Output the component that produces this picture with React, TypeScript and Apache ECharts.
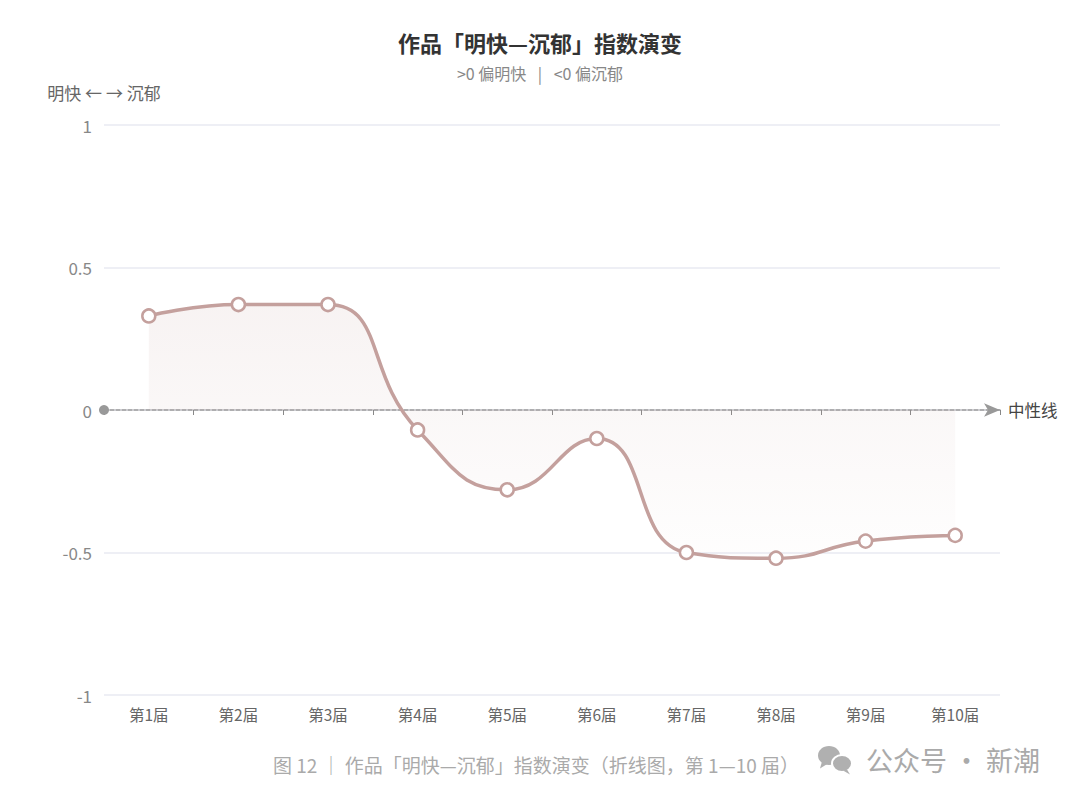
import React, { useEffect, useRef } from "react";
import * as echarts from "echarts";

const categories = ["第1届", "第2届", "第3届", "第4届", "第5届", "第6届", "第7届", "第8届", "第9届", "第10届"];
const values = [0.33, 0.37, 0.37, -0.07, -0.28, -0.1, -0.5, -0.52, -0.46, -0.44];
const yTicks = { min: -1, max: 1, interval: 0.5 };

const FONT = "'Noto Sans CJK SC', 'Noto Sans', sans-serif";
const LINE = "#c4a09d";

export default function App() {
  const ref = useRef<HTMLDivElement>(null);
  useEffect(() => {
    document.body.style.margin = "0";
    const chart = echarts.init(ref.current!, null, { renderer: "svg" });
    chart.setOption({
      animation: false,
      backgroundColor: "#fff",
      textStyle: { fontFamily: FONT },
      title: {
        text: "作品「明快—沉郁」指数演变",
        subtext: ">0 偏明快\u2002 |\u2002 <0 偏沉郁",
        left: "center",
        top: 26,
        itemGap: 12,
        textStyle: { fontSize: 22, fontWeight: "bold", color: "#333", fontFamily: FONT },
        subtextStyle: { fontSize: 16, color: "#888", fontFamily: FONT },
      },
      grid: { left: 104, right: 80, top: 125, bottom: 109 },
      xAxis: [
        {
          type: "category",
          data: categories,
          boundaryGap: true,
          position: "bottom",
          axisLine: { show: false, onZero: false },
          axisTick: { show: false },
          axisLabel: { color: "#666", fontSize: 15.5, margin: 11, fontFamily: FONT },
        },
        {
          type: "category",
          data: categories,
          boundaryGap: true,
          position: "bottom",
          axisLine: {
            show: true,
            onZero: true,
            symbol: ["circle", "arrow"],
            symbolSize: [10, 16],
            lineStyle: { color: "#999", width: 1.5, type: [4, 2] },
          },
          axisTick: { show: true, length: 5, lineStyle: { color: "#888" } },
          axisLabel: { show: false },
          name: "中性线",
          nameLocation: "end",
          nameGap: 8,
          nameTextStyle: { color: "#444", fontSize: 16.5, fontFamily: FONT },
        },
      ],
      yAxis: {
        type: "value",
        min: yTicks.min,
        max: yTicks.max,
        interval: yTicks.interval,
        name: "明快 ← → 沉郁",
        nameLocation: "end",
        nameGap: 24,
        nameTextStyle: { color: "#666", fontSize: 17, align: "center", fontFamily: FONT },
        axisLine: { show: false },
        axisTick: { show: false },
        axisLabel: { color: "#888", fontSize: 17, margin: 12, fontFamily: FONT },
        splitLine: { lineStyle: { color: "#e8eaf2", width: 1.5 } },
      },
      series: [
        {
          type: "line",
          xAxisIndex: 0,
          data: values,
          smooth: 0.5,
          symbol: "circle",
          symbolSize: 13,
          itemStyle: { color: "#fff", borderColor: LINE, borderWidth: 2.5 },
          lineStyle: { color: LINE, width: 3.5 },
          areaStyle: {
            origin: 0,
            color: new echarts.graphic.LinearGradient(0, 0, 0, 1, [
              { offset: 0, color: "rgba(196,160,157,0.18)" },
              { offset: 1, color: "rgba(196,160,157,0.02)" },
            ]),
          },
          z: 3,
        },
      ],
      graphic: [
        {
          type: "text",
          left: 273,
          top: 755,
          style: {
            text: "图 12 ｜ 作品「明快—沉郁」指数演变（折线图，第 1—10 届）",
            fill: "#aaa",
            fontSize: 19,
            fontFamily: FONT,
          },
        },
        {
          type: "group",
          left: 818,
          top: 746,
          children: [
            { type: "ellipse", shape: { cx: 12, cy: 10, rx: 11, ry: 9.5 }, style: { fill: "#b0b0b0" } },
            { type: "polygon", shape: { points: [[5, 16], [3, 23], [11, 18]] }, style: { fill: "#b0b0b0" } },
            { type: "ellipse", shape: { cx: 25, cy: 18, rx: 10, ry: 8.5 }, style: { fill: "#b0b0b0", stroke: "#fff", lineWidth: 2 } },
            { type: "polygon", shape: { points: [[30, 24], [33, 29], [26, 25]] }, style: { fill: "#b0b0b0" } },
          ],
        },
        {
          type: "text",
          left: 866,
          top: 746,
          style: { text: "公众号 · 新潮", fill: "#aaa", fontSize: 27, fontFamily: FONT },
        },
      ],
    });
    return () => chart.dispose();
  }, []);
  return <div ref={ref} style={{ width: 1080, height: 804 }} />;
}
